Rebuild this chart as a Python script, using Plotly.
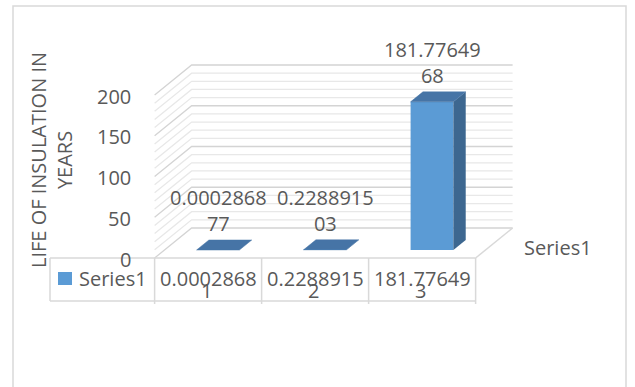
import plotly.graph_objects as go

# ---------------- data ----------------
CATEGORIES = ["1", "2", "3"]
VALUES = [0.000286877, 0.228891503, 181.7764968]
SERIES_NAME = "Series1"
Y_TICKS = [0, 50, 100, 150, 200]
MINOR_STEP = 10
Y_TITLE = "LIFE OF INSULATION IN<br>YEARS"

# ---------------- geometry / style ----------------
W, H = 635, 387
PX_PER_CAT = 107.0     # pixels between categories
X0_PX = 218.0          # pixel of category 0 (bar front plane)
PX_PER_UNIT = 0.815    # pixels per value unit
Y0_PX = 250.0          # pixel of value 0 (bar front plane)
DEPTH_PX = (37.0, 30.0)  # depth vector of the 3D box (right, up)
D_BAR_F, D_BAR_B = 0.267, 0.60
BAR_W = 0.4
VMAX = 200

DX = DEPTH_PX[0] / PX_PER_CAT
DY = DEPTH_PX[1] / PX_PER_UNIT

FONT = "Open Sans"
TXT = "#595959"
GRID_MAJ = "#d4d4d4"
GRID_MIN = "#e8e8e8"
FRAME = "#d9d9d9"
C_FRONT = "#5B9BD5"
C_TOP = "#4674A6"
C_SIDE = "#3D6790"


def proj(c, v, d):
    return c + (d - D_BAR_F) * DX, v + (d - D_BAR_F) * DY


def px_x(px):
    return (px - X0_PX) / PX_PER_CAT


def px_y(py):
    return (Y0_PX - py) / PX_PER_UNIT


n = len(CATEGORIES)
c_lo, c_hi = -0.5, n - 0.5

fig = go.Figure()
annotations = []
shapes = []

# ---- gridlines (back wall + left side wall), drawn below the bars ----
for major in (False, True):
    for v in range(0, VMAX + 1, MINOR_STEP):
        if (v in Y_TICKS) != major:
            continue
        a = proj(c_lo, v, 0)
        b = proj(c_lo, v, 1)
        c = proj(c_hi, v, 1)
        path = f"M{a[0]},{a[1]} L{b[0]},{b[1]} L{c[0]},{c[1]}"
        shapes.append(dict(type="path", xref="x", yref="y", path=path, layer="below",
                           line=dict(color=GRID_MAJ if major else GRID_MIN, width=1.3)))

# floor right edge
a = proj(c_hi, 0, 0)
b = proj(c_hi, 0, 1)
shapes.append(dict(type="line", xref="x", yref="y", x0=a[0], y0=a[1], x1=b[0], y1=b[1],
                   layer="below", line=dict(color=FRAME, width=1.5)))

# ---- bars ----
fig.add_trace(go.Bar(x=list(range(n)), y=VALUES, width=BAR_W,
                     marker=dict(color=C_FRONT, line=dict(width=0)),
                     hoverinfo="skip", showlegend=False))
for i, v in enumerate(VALUES):
    l, r = i - BAR_W / 2, i + BAR_W / 2
    # side face
    pts = [proj(r, 0, D_BAR_F), proj(r, v, D_BAR_F), proj(r, v, D_BAR_B), proj(r, 0, D_BAR_B)]
    fig.add_trace(go.Scatter(x=[p[0] for p in pts] + [pts[0][0]], y=[p[1] for p in pts] + [pts[0][1]],
                             fill="toself", fillcolor=C_SIDE, mode="lines",
                             line=dict(width=0, color=C_SIDE), hoverinfo="skip", showlegend=False))
    # top face
    pts = [proj(l, v, D_BAR_F), proj(r, v, D_BAR_F), proj(r, v, D_BAR_B), proj(l, v, D_BAR_B)]
    fig.add_trace(go.Scatter(x=[p[0] for p in pts] + [pts[0][0]], y=[p[1] for p in pts] + [pts[0][1]],
                             fill="toself", fillcolor=C_TOP, mode="lines",
                             line=dict(width=0.5, color=C_TOP), hoverinfo="skip", showlegend=False))

font = dict(family=FONT, size=20, color=TXT)

# ---- data labels ----
for i, v in enumerate(VALUES):
    s = str(v)
    parts = [s[k:k + 9] for k in range(0, len(s), 9)]
    annotations.append(dict(x=i, y=v, xref="x", yref="y", text="<br>".join(parts),
                            showarrow=False, yanchor="bottom", yshift=11, font=font))

# ---- value axis tick labels ----
for t in Y_TICKS:
    x, y = proj(c_lo, t, 0)
    annotations.append(dict(x=x, y=y, xref="x", yref="y", text=str(t), showarrow=False,
                            xanchor="right", xshift=-22, yshift=-1, font=font))

# ---- axis title ----
annotations.append(dict(x=52 / W, y=1 - 160 / H, xref="paper", yref="paper", text=Y_TITLE,
                        textangle=-90, showarrow=False, xanchor="center", yanchor="middle",
                        font=font))

# ---- series (depth) axis label ----
x, y = proj(c_hi, 0, 0.5)
annotations.append(dict(x=x, y=y, xref="x", yref="y", text=SERIES_NAME, showarrow=False,
                        xanchor="left", xshift=28, yshift=-4, font=font))

# ---- data table ----
TABLE_LEFT_PX, TABLE_BOTTOM_PX = 50, 301
t_top = proj(c_lo, 0, 0)[1]
t_bot = px_y(TABLE_BOTTOM_PX)
t_bot_tick = px_y(TABLE_BOTTOM_PX + 3)
t_left = px_x(TABLE_LEFT_PX)
t_right = proj(c_hi, 0, 0)[0]
line = dict(color=FRAME, width=1.5)
shapes.append(dict(type="line", xref="x", yref="y", x0=t_left, x1=t_right, y0=t_top, y1=t_top, line=line))
shapes.append(dict(type="line", xref="x", yref="y", x0=t_left, x1=t_right, y0=t_bot, y1=t_bot, line=line))
shapes.append(dict(type="line", xref="x", yref="y", x0=t_left, x1=t_left, y0=t_top, y1=t_bot, line=line))
for k in range(n + 1):
    xb = proj(c_lo + k, 0, 0)[0]
    shapes.append(dict(type="line", xref="x", yref="y", x0=xb, x1=xb, y0=t_top, y1=t_bot_tick, line=line))

row_mid = (t_top + t_bot) / 2
for i, (cat, v) in enumerate(zip(CATEGORIES, VALUES)):
    xc = proj(i, 0, 0)[0]
    annotations.append(dict(x=xc, y=row_mid, xref="x", yref="y", text=str(v)[:9], showarrow=False,
                            yshift=1, font=font))
    annotations.append(dict(x=xc, y=row_mid, xref="x", yref="y", text=cat, showarrow=False,
                            xshift=-2, yshift=-11, font=font))

# legend key in table
shapes.append(dict(type="rect", xref="x", yref="y", x0=px_x(58), x1=px_x(72),
                   y0=px_y(285), y1=px_y(272), fillcolor=C_FRONT, line=dict(width=0)))
annotations.append(dict(x=px_x(77), y=row_mid, xref="x", yref="y", text=SERIES_NAME, showarrow=False,
                        xanchor="left", yshift=1, font=font))

# ---- outer chart frame ----
shapes.append(dict(type="rect", xref="paper", yref="paper", x0=13 / W, x1=626 / W,
                   y0=-0.05, y1=1 - 6 / H, line=dict(color=FRAME, width=1.5), layer="below"))

fig.update_layout(
    width=W, height=H, margin=dict(l=0, r=0, t=0, b=0),
    paper_bgcolor="white", plot_bgcolor="white",
    xaxis=dict(range=[px_x(0), px_x(W)], visible=False, fixedrange=True),
    yaxis=dict(range=[px_y(H), px_y(0)], visible=False, fixedrange=True),
    showlegend=False, annotations=annotations, shapes=shapes,
    font=dict(family=FONT, color=TXT), barmode="overlay",
)

fig.write_html("out.html")
